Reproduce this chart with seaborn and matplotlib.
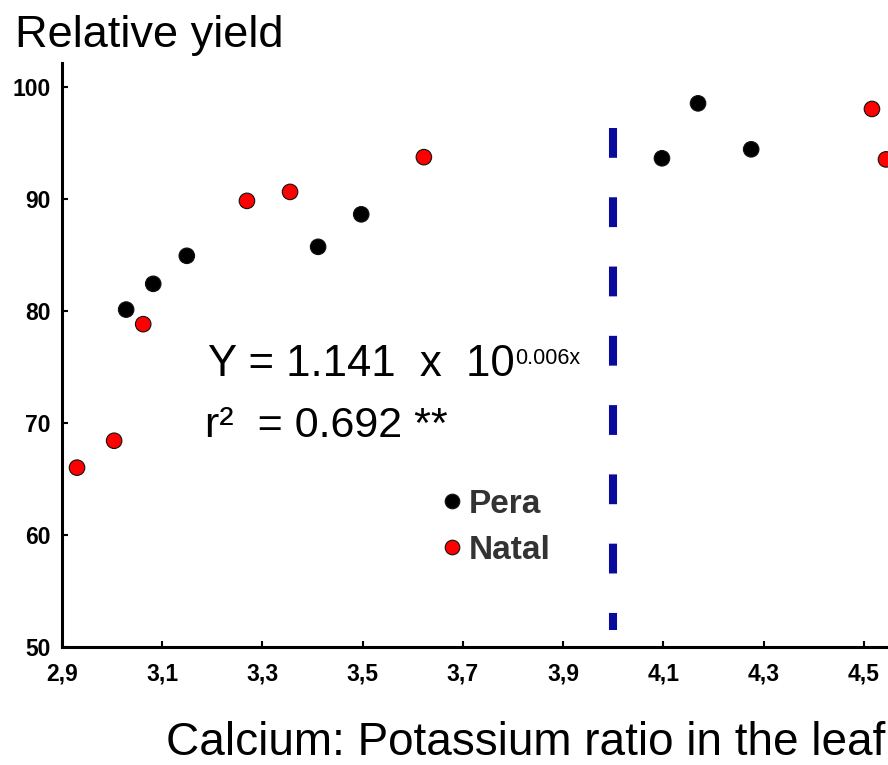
import matplotlib
matplotlib.use("Agg")
import matplotlib.pyplot as plt
import seaborn as sns
import pandas as pd

# ---- data ----
pera_x = [3.028, 3.082, 3.149, 3.411, 3.497, 4.097, 4.169, 4.275]
pera_y = [80.1, 82.4, 84.9, 85.7, 88.6, 93.6, 98.5, 94.4]
natal_x = [2.930, 3.004, 3.062, 3.269, 3.355, 3.622, 4.516, 4.544]
natal_y = [66.0, 68.4, 78.8, 89.8, 90.6, 93.7, 98.0, 93.5]

x_ticks = [2.9, 3.1, 3.3, 3.5, 3.7, 3.9, 4.1, 4.3, 4.5]
x_tick_labels = ["2,9", "3,1", "3,3", "3,5", "3,7", "3,9", "4,1", "4,3", "4,5"]
y_ticks = [50, 60, 70, 80, 90, 100]
threshold_x = 4.0
threshold_span = (96.3, 51.5)

df = pd.DataFrame({
    "ratio": pera_x + natal_x,
    "yield": pera_y + natal_y,
    "cultivar": ["Pera"] * len(pera_x) + ["Natal"] * len(natal_x),
})

sns.set_theme(style="white")
plt.rcParams["font.family"] = ["Liberation Sans", "DejaVu Sans"]

W, H = 888, 765
fig = plt.figure(figsize=(W / 100, H / 100), dpi=100)
fig.patch.set_facecolor("white")
ax = fig.add_axes([62 / W, (H - 647) / H, (W - 62) / W, (647 - 63) / H])
ax.set_facecolor("white")

sns.scatterplot(data=df, x="ratio", y="yield", hue="cultivar",
                palette={"Pera": "#000000", "Natal": "#ff0000"},
                s=125, linewidth=0.8, edgecolor="#111111", ax=ax, legend=True)

ax.plot([threshold_x, threshold_x], list(threshold_span), color="#0a0a9c",
        lw=5.8, dashes=(3.7, 4.9), solid_capstyle="butt", dash_capstyle="butt")

ax.set_xlim(2.9, 4.548)
ax.set_ylim(50, 102.1)
ax.set_xticks(x_ticks)
ax.set_xticklabels(x_tick_labels)
ax.set_yticks(y_ticks)
ax.set_xlabel("")
ax.set_ylabel("")
for lab in ax.get_xticklabels() + ax.get_yticklabels():
    lab.set_fontweight("bold")
    lab.set_fontsize(16.5)
ax.tick_params(axis="both", direction="in", length=4.5, width=1.5,
               color="black", labelcolor="black", bottom=True, left=True)
ax.tick_params(axis="x", pad=11)
ax.tick_params(axis="y", pad=8)
for side in ["top", "right"]:
    ax.spines[side].set_visible(False)
for side in ["left", "bottom"]:
    ax.spines[side].set_linewidth(2.2)
    ax.spines[side].set_color("black")

# legend
handles, labels = ax.get_legend_handles_labels()
if ax.get_legend() is not None:
    ax.get_legend().remove()
for h in handles:
    try:
        h.set_markersize(10.5)
    except Exception:
        pass
leg = ax.legend(handles, labels, loc="upper left",
                bbox_to_anchor=(425 / W, 1 - 472 / H), bbox_transform=fig.transFigure,
                frameon=False, borderpad=0, handlelength=0.6, handletextpad=0.2,
                labelspacing=0.45, prop={"weight": "bold", "size": 24})
for t in leg.get_texts():
    t.set_color("#333333")

# equation text
t1 = fig.text(208 / W, 1 - 376 / H, "Y = 1.141  x  10", fontsize=31.5,
              va="baseline", ha="left", color="black")
ax.annotate("0.006x", xy=(1.0, 1.0), xycoords=t1, xytext=(0.5, -3),
            textcoords="offset points", fontsize=15.5, va="top", ha="left",
            color="black")
fig.text(205 / W, 1 - 437 / H, "r\u00b2  = 0.692 **", fontsize=31,
         va="baseline", ha="left", color="black")

# axis titles
fig.text(15 / W, 1 - 47 / H, "Relative yield", fontsize=32.5,
         va="baseline", ha="left", color="black")
fig.text(885 / W, 1 - 755 / H, "Calcium: Potassium ratio in the leaf",
         fontsize=33, va="baseline", ha="right", color="black")

fig.savefig("out.png", dpi=100, facecolor="white")
